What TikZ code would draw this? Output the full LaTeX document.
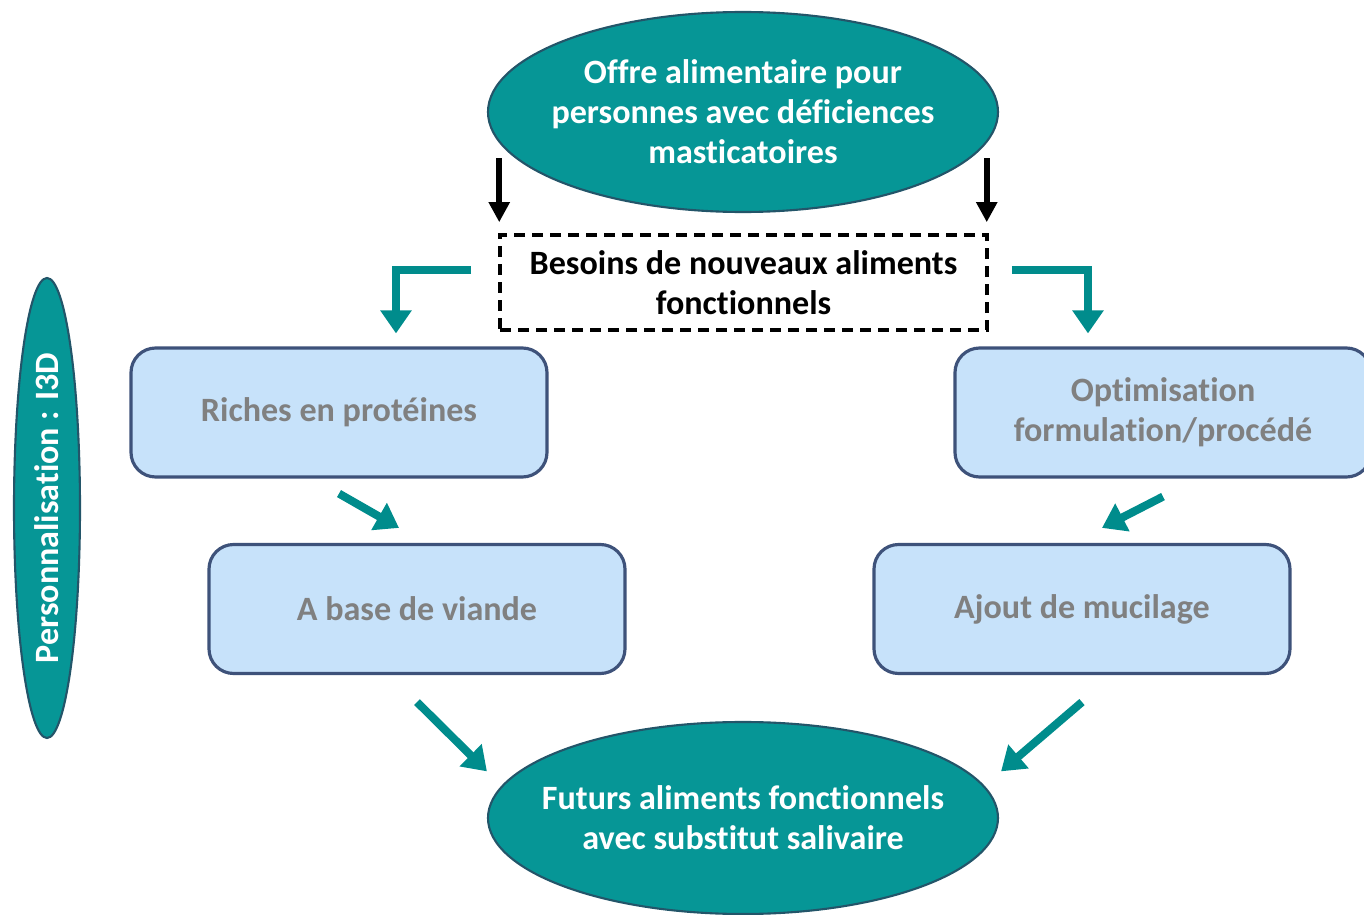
\documentclass[tikz,border=0pt]{standalone}
\usepackage{fontspec}
\setmainfont{Carlito}[Ligatures=NoCommon]
\usepackage{xcolor}
\usepackage{tikz}
\usetikzlibrary{arrows.meta, positioning, shapes.geometric}
\definecolor{tealfill}{RGB}{6,150,150}
\definecolor{tealedge}{RGB}{35,85,105}
\definecolor{tealarr}{RGB}{0,140,140}
\definecolor{boxfill}{RGB}{199,226,250}
\definecolor{boxedge}{RGB}{62,82,122}
\definecolor{boxtext}{RGB}{128,128,128}

\begin{document}
\begin{tikzpicture}[
    every node/.style={font=\fontsize{9.7}{11.4}\selectfont\bfseries, align=center},
    ovalnode/.style={ellipse, draw=tealedge, line width=0.6pt, fill=tealfill,
                     text=white, inner ysep=0pt},
    boxnode/.style={draw=boxedge, line width=0.9pt, fill=boxfill, text=boxtext,
                    rounded corners=7pt, minimum width=4.16cm, minimum height=1.29cm},
    tealarrow/.style={-{Triangle[width=3mm, length=2.3mm]}, line width=2.3pt, color=tealarr},
    blackarrow/.style={-{Triangle[width=2mm, length=2mm]}, line width=1.7pt, color=black}]
        \useasboundingbox (0,0) rectangle (13.64,9.14);
        % ovales
        \node[ovalnode, inner xsep=-1.2mm, minimum width=5.1cm, minimum height=2cm]
          (offre) at (7.43, 8.02) {Offre alimentaire pour\\personnes avec déficiences\\masticatoires};
        \node[ovalnode, inner xsep=-2.1mm, minimum width=5.1cm, minimum height=1.92cm]
          (futurs) at (7.43, 0.96) {Futurs aliments fonctionnels\\avec substitut salivaire};
        \node[ovalnode, inner xsep=0pt, minimum width=0.66cm, minimum height=4.6cm]
          (perso) at (0.47, 4.06) {};
        \node[text=white, rotate=90] (persotxt) at (perso.center) {Personnalisation : I3D};
        % besoins
        \node[draw=black, line width=1pt, dash pattern=on 1.1mm off 0.7mm,
              minimum width=4.87cm, minimum height=0.95cm]
          (besoins) at (7.435, 6.315) {Besoins de nouveaux aliments\\fonctionnels};
        % boites
        \node[boxnode] (riches) at (3.39, 5.015) {Riches en protéines};
        \node[boxnode] (optim)  at (11.63, 5.015) {Optimisation\\formulation/procédé};
        \node[boxnode] (viande) at (4.17, 3.05) {A base de viande};
        \node[boxnode] (mucil)  at (10.82, 3.05) {Ajout de mucilage};
        % fleches
        \draw[blackarrow] ([shift={(0.1mm,7.5mm)}]besoins.north west) -- ([shift={(0.1mm,1.1mm)}]besoins.north west);
        \draw[blackarrow] ([shift={(-0.2mm,7.5mm)}]besoins.north east) -- ([shift={(-0.2mm,1.1mm)}]besoins.north east);
        \draw[tealarrow] ([shift={(-2.7mm,1.25mm)}]besoins.west) -| ([shift={(5.7mm,1.3mm)}]riches.north);
        \draw[tealarrow] ([shift={(2.3mm,1.25mm)}]besoins.east) -| ([shift={(-7.5mm,1.3mm)}]optim.north);
        \draw[tealarrow] ([yshift=-1.5mm]riches.south) -- ([shift={(-1.8mm,1.5mm)}]viande.north);
        \draw[tealarrow] ([yshift=-1.8mm]optim.south) -- ([shift={(2mm,1.5mm)}]mucil.north);
        \draw[tealarrow] ([yshift=-2.7mm]viande.south) -- ([shift={(-7.5mm,-2.2mm)}]futurs.north west);
        \draw[tealarrow] ([yshift=-2.7mm]mucil.south) -- ([shift={(7.7mm,-2.2mm)}]futurs.north east);
      \end{tikzpicture}
\end{document}
